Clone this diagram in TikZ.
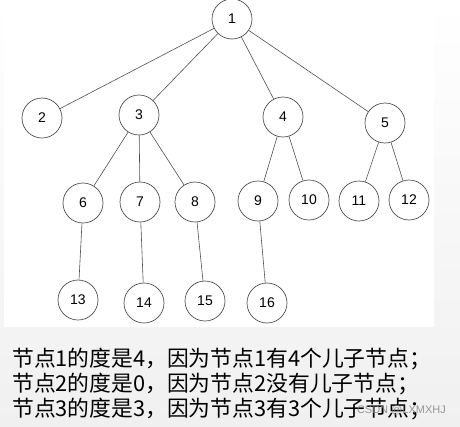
\documentclass[tikz,border=0pt]{standalone}
\usepackage{fontspec}
\setmainfont{Liberation Sans}
\newfontfamily\cjkfont{Noto Sans CJK SC}
\definecolor{bggray}{RGB}{240,240,240}
\definecolor{linegray}{RGB}{80,80,80}
\tikzset{
  vertex/.style={circle,draw=linegray,line width=0.7pt,minimum size=40pt,inner sep=0pt,font=\fontsize{14}{14}\selectfont},
  edge/.style={draw=linegray,line width=0.6pt},
  textline/.style={anchor=base west,inner sep=0pt,font=\cjkfont\fontsize{21.8}{25}\selectfont}
}
\begin{document}
\begin{tikzpicture}[x=1pt,y=-1pt]
\useasboundingbox (0,0) rectangle (460,426);
\shade[top color=white,bottom color=bggray] (0,0) rectangle (460,426);
\fill[white] (4,0) rectangle (434,327);
\node[vertex] (n1) at (232,19) {1};
\node[vertex] (n2) at (42,118) {2};
\node[vertex] (n3) at (139,115) {3};
\node[vertex] (n4) at (283,117) {4};
\node[vertex] (n5) at (385,123) {5};
\node[vertex] (n6) at (83,203) {6};
\node[vertex] (n7) at (140,202) {7};
\node[vertex] (n8) at (195,202) {8};
\node[vertex] (n9) at (258,201) {9};
\node[vertex] (n10) at (309,200) {10};
\node[vertex] (n11) at (359,201) {11};
\node[vertex] (n12) at (409,200) {12};
\node[vertex] (n13) at (78,300) {13};
\node[vertex] (n14) at (144,303) {14};
\node[vertex] (n15) at (205,301) {15};
\node[vertex] (n16) at (267,303) {16};
\foreach \a/\b in {1/2,1/3,1/4,1/5,3/6,3/7,3/8,4/9,4/10,5/11,5/12,6/13,7/14,8/15,9/16} {
\draw[edge] (n\a) -- (n\b);}
\node[textline] (l1) at (12,366) {节点1的度是4，因为节点1有4个儿子节点；};
\node[textline] (l2) at (12,391) {节点2的度是0，因为节点2没有儿子节点；};
\node[textline] (l3) at (12,416) {节点3的度是3，因为节点3有3个儿子节点；};
\node[anchor=base east,inner sep=0pt,text=gray,opacity=0.8,font=\fontsize{11}{11}\selectfont] (wm) at (446,413) {CSDN @LXMXHJ};
\end{tikzpicture}
\end{document}
